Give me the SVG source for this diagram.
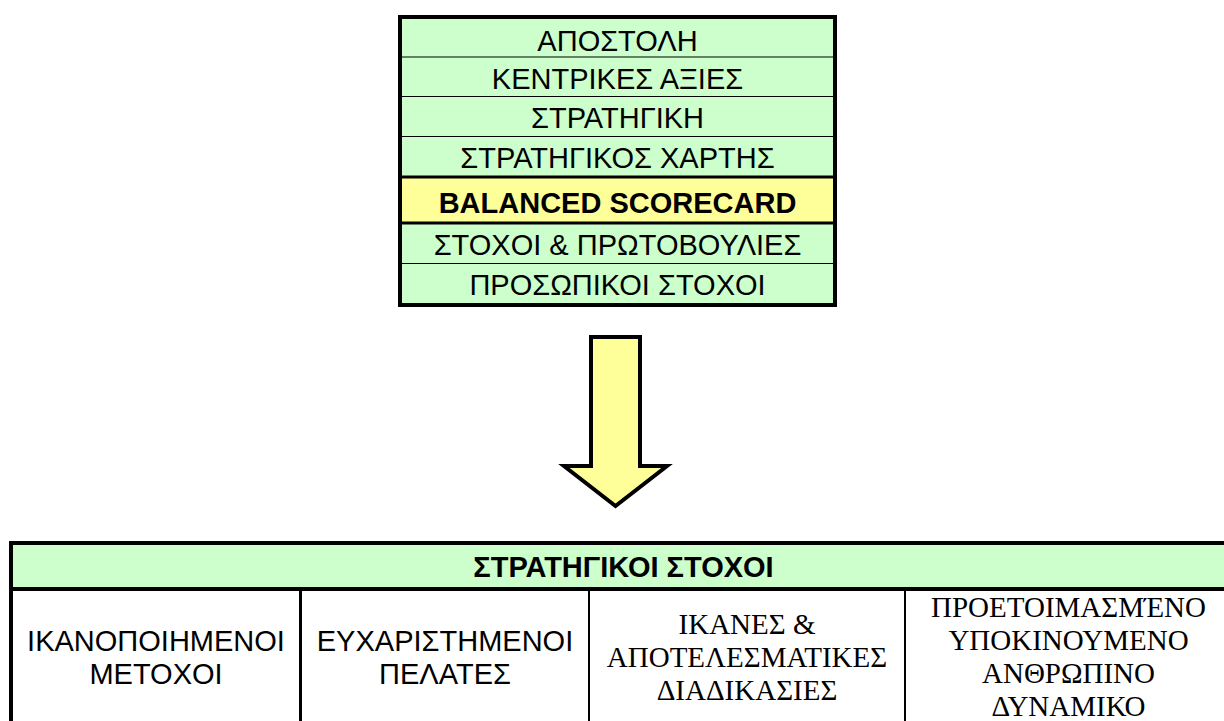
<svg xmlns="http://www.w3.org/2000/svg" width="1224" height="721" viewBox="0 0 1224 721">
  <defs>
    <style>
      .green { fill: #CCFFCC; }
      .yellow { fill: #FFFF99; }
      .frame { fill: none; stroke: #000; stroke-width: 4; }
      .thin { stroke: #000; stroke-width: 1; }
      .thick { stroke: #000; stroke-width: 3; }
      .sans { font-family: "Liberation Sans", Arial, sans-serif; font-size: 29px; fill: #000; text-anchor: middle; }
      .bold { font-weight: bold; }
      .serif { font-family: "Liberation Serif", "Times New Roman", serif; font-size: 29px; fill: #000; text-anchor: middle; }
    </style>
  </defs>
  <rect width="1224" height="721" fill="#fff"/>

  <!-- Strategy hierarchy stack -->
  <g id="stack">
    <rect class="green" x="400" y="17" width="435" height="288"/>
    <rect class="yellow" x="400" y="177" width="435" height="46"/>
    <line class="thin" x1="400" y1="57" x2="835" y2="57"/>
    <line class="thin" x1="400" y1="96.5" x2="835" y2="96.5"/>
    <line class="thin" x1="400" y1="136.5" x2="835" y2="136.5"/>
    <line class="thick" x1="400" y1="177" x2="835" y2="177"/>
    <line class="thick" x1="400" y1="223" x2="835" y2="223"/>
    <line class="thin" x1="400" y1="263.5" x2="835" y2="263.5"/>
    <rect class="frame" x="400" y="17" width="435" height="288"/>
    <text class="sans" x="617.5" y="51">ΑΠΟΣΤΟΛΗ</text>
    <text class="sans" x="617.5" y="89">ΚΕΝΤΡΙΚΕΣ ΑΞΙΕΣ</text>
    <text class="sans" x="617.5" y="128">ΣΤΡΑΤΗΓΙΚΗ</text>
    <text class="sans" x="617.5" y="168">ΣΤΡΑΤΗΓΙΚΟΣ ΧΑΡΤΗΣ</text>
    <text class="sans bold" x="617.5" y="213">BALANCED SCORECARD</text>
    <text class="sans" x="617.5" y="255">ΣΤΟΧΟΙ &amp; ΠΡΩΤΟΒΟΥΛΙΕΣ</text>
    <text class="sans" x="617.5" y="295">ΠΡΟΣΩΠΙΚΟΙ ΣΤΟΧΟΙ</text>
  </g>

  <!-- Block arrow pointing down -->
  <g id="connectors">
    <polygon class="yellow" stroke="#000" stroke-width="4" stroke-linejoin="miter"
             points="591,337 640,337 640,466 667,466 615.5,506 564,466 591,466"/>
  </g>

  <!-- Strategic objectives table -->
  <g id="objectives">
    <rect x="11" y="543" width="1223" height="200" fill="#fff"/>
    <rect class="green" x="11" y="543" width="1223" height="46"/>
    <line stroke="#000" stroke-width="4" x1="11" y1="589" x2="1234" y2="589"/>
    <line stroke="#000" stroke-width="3" x1="300.5" y1="589" x2="300.5" y2="740"/>
    <line stroke="#000" stroke-width="2" x1="589" y1="589" x2="589" y2="740"/>
    <line stroke="#000" stroke-width="2" x1="905" y1="589" x2="905" y2="740"/>
    <rect class="frame" x="11" y="543" width="1223" height="200"/>
    <text class="sans bold" x="623.5" y="577">ΣΤΡΑΤΗΓΙΚΟΙ ΣΤΟΧΟΙ</text>
  </g>

  <g id="shareholders">
    <text class="sans" x="156" y="651">ΙΚΑΝΟΠΟΙΗΜΕΝΟΙ</text>
    <text class="sans" x="156" y="684">ΜΕΤΟΧΟΙ</text>
  </g>
  <g id="customers">
    <text class="sans" x="445" y="651">ΕΥΧΑΡΙΣΤΗΜΕΝΟΙ</text>
    <text class="sans" x="445" y="684">ΠΕΛΑΤΕΣ</text>
  </g>
  <g id="processes">
    <text class="serif" x="747" y="634">ΙΚΑΝΕΣ &amp;</text>
    <text class="serif" x="747" y="667">ΑΠΟΤΕΛΕΣΜΑΤΙΚΕΣ</text>
    <text class="serif" x="747" y="700">ΔΙΑΔΙΚΑΣΙΕΣ</text>
  </g>
  <g id="people">
    <text class="serif" x="1068.5" y="617">ΠΡΟΕΤΟΙΜΑΣΜΈΝΟ</text>
    <text class="serif" x="1068.5" y="650">ΥΠΟΚΙΝΟΥΜΕΝΟ</text>
    <text class="serif" x="1068.5" y="683">ΑΝΘΡΩΠΙΝΟ</text>
    <text class="serif" x="1068.5" y="716">ΔΥΝΑΜΙΚΟ</text>
  </g>
</svg>
